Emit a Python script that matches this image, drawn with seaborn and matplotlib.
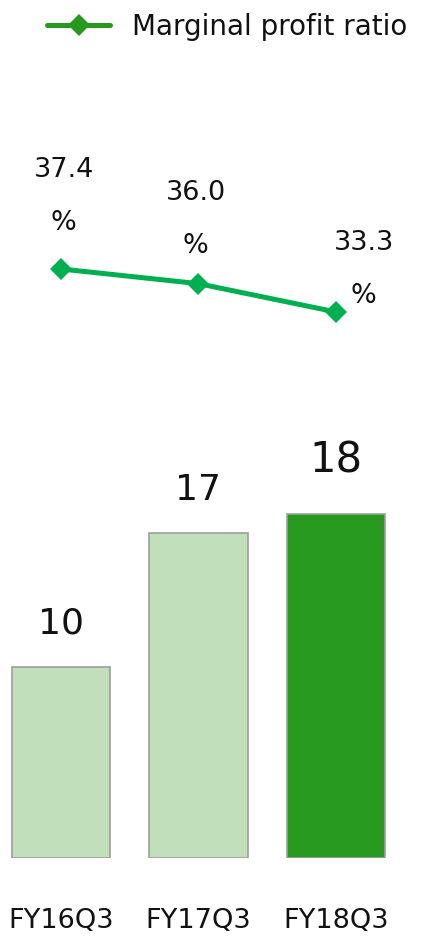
import pandas as pd
import matplotlib
matplotlib.use("Agg")
import matplotlib.pyplot as plt
from matplotlib.lines import Line2D
import seaborn as sns

# data
periods = ["FY16Q3", "FY17Q3", "FY18Q3"]
marginal_profit = [10, 17, 18]
profit_ratio = [37.4, 36.0, 33.3]
ratio_labels = ["37.4\n%", "36.0\n%", "33.3\n%"]

bar_colors = ["#C1DFBB", "#C1DFBB", "#26991E"]
line_color = "#00B050"
text_color = "#111111"

sns.set_theme(style="white")
plt.rcParams['font.family'] = ['DejaVu Sans']

df = pd.DataFrame({"period": periods, "profit": marginal_profit, "ratio": profit_ratio})

fig = plt.figure(figsize=(4.26, 9.38), dpi=100)
H = 938.0
xlim = (-61 / 137.5, (426 - 61) / 137.5)

# bar panel
ax_bar = fig.add_axes([0, (H - 858) / H, 1, 458 / H])
sns.barplot(data=df, x="period", y="profit", hue="period", palette=bar_colors,
            legend=False, width=0.713, edgecolor="#9E9E9E", linewidth=1.2,
            saturation=1, ax=ax_bar)
ax_bar.set_xlim(*xlim)
ax_bar.set_ylim(0, 458 / 19.1)
ax_bar.set_xlabel("")
ax_bar.set_ylabel("")
ax_bar.set_yticks([])
ax_bar.tick_params(axis="x", length=0, pad=36, labelsize=19.5, labelcolor=text_color)
sns.despine(ax=ax_bar, left=True, bottom=True)

for i, v in enumerate(marginal_profit):
    big = i == len(marginal_profit) - 1
    ax_bar.annotate(f"{v}", (i, v), xytext=(0, 30 if big else 24),
                    textcoords="offset points", ha="center", va="baseline",
                    fontsize=30 if big else 26, color=text_color)

# line panel
ax_line = fig.add_axes([0, (H - 400) / H, 1, 270 / H])
sns.lineplot(data=df, x="period", y="ratio", color=line_color, linewidth=3.6,
             marker="D", markersize=11, markeredgewidth=0, sort=False, ax=ax_line)
ax_line.set_xlim(*xlim)
ax_line.set_ylim(24.91, 50.65)
ax_line.axis("off")

offsets = [(2, 24), (-2, 18), (20, 2)]
for i, (v, lab) in enumerate(zip(profit_ratio, ratio_labels)):
    ax_line.annotate(lab, (i, v), xytext=offsets[i], textcoords="offset points",
                     ha="center", va="bottom", fontsize=19.5, linespacing=2.35,
                     color=text_color)

handle = Line2D([], [], color="#26991E", linewidth=3.6, marker="D",
                markersize=11, markeredgewidth=0)
fig.legend([handle], ["Marginal profit ratio"], loc="upper left",
           bbox_to_anchor=(47 / 426, 1 - 13 / H), frameon=False, fontsize=20,
           handlelength=2.27, handletextpad=0.8, borderpad=0, borderaxespad=0,
           labelcolor=text_color)

fig.savefig("out.png", dpi=100)
